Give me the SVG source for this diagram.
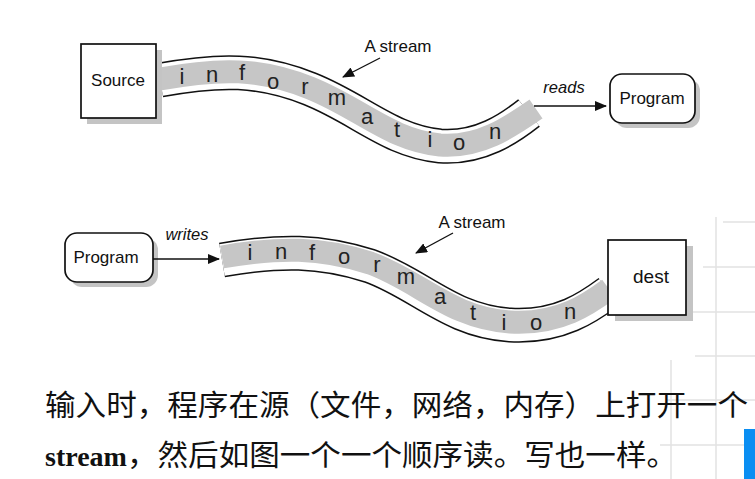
<svg xmlns="http://www.w3.org/2000/svg" width="755" height="479" viewBox="0 0 755 479">
<style>
.grid{stroke:#e2e2e2;stroke-width:1.5;fill:none}
.shadow{fill:#c4c4c4}
.box{fill:#fff;stroke:#111;stroke-width:1.7}
.lbl{font-family:"Liberation Sans",Arial,sans-serif;font-size:17px;fill:#111;text-anchor:middle}
.ital{font-family:"Liberation Sans",Arial,sans-serif;font-size:16.5px;font-style:italic;fill:#111;text-anchor:middle}
.tubeO{fill:none;stroke:#111;stroke-width:35}
.tubeW{fill:none;stroke:#fff;stroke-width:32}
.tubeG{fill:none;stroke:#c6c6c6;stroke-width:23}
.let{font-family:"Liberation Sans",Arial,sans-serif;font-size:22px;fill:#222;text-anchor:middle}
.conn{stroke:#111;stroke-width:1.4;fill:none;marker-end:url(#ah)}
.cjk{font-family:"Noto Sans CJK SC",sans-serif;font-size:29px;fill:#111}
.bold{font-family:"Liberation Serif","Times New Roman",serif;font-size:28px;font-weight:bold;fill:#111}
</style>
<defs>
<marker id="ah" markerWidth="12" markerHeight="10" refX="11" refY="5" orient="auto" markerUnits="userSpaceOnUse">
<path d="M0,0 L12,5 L0,10 Z" fill="#111"/>
</marker>
</defs>
<rect width="755" height="479" fill="#fff"/>
<g id="background">
<line class="grid" x1="716" y1="217" x2="716" y2="479"/>
<line class="grid" x1="671" y1="360" x2="671" y2="479"/>
<line class="grid" x1="723" y1="222" x2="755" y2="222"/>
<line class="grid" x1="703" y1="267" x2="755" y2="267"/>
<line class="grid" x1="693" y1="312" x2="755" y2="312"/>
<line class="grid" x1="695" y1="356" x2="755" y2="356"/>
<line class="grid" x1="667" y1="400" x2="755" y2="400"/>
<line class="grid" x1="660" y1="445" x2="755" y2="445"/>
<rect x="744" y="429" width="11" height="50" fill="#0a8ef2"/>
</g>
<g id="stream-top">
<path class="tubeO" d="M160,80 C220,69 260,69 310,89 C360,109 390,141 440,146 C480,149 510,128 529,113"/>
<path class="tubeW" d="M160,80 C220,69 260,69 310,89 C360,109 390,141 440,146 C480,149 510,128 529,113"/>
<path class="tubeG" d="M160,79 C220,68 260,68 310,88 C360,108 390,140 440,145 C480,148 510,127 536,109"/>
<text class="let" x="182" y="84">i</text>
<text class="let" x="212" y="82">n</text>
<text class="let" x="242" y="80">f</text>
<text class="let" x="273" y="89">o</text>
<text class="let" x="305" y="94">r</text>
<text class="let" x="337" y="105">m</text>
<text class="let" x="367" y="124">a</text>
<text class="let" x="397" y="137">t</text>
<text class="let" x="430" y="147">i</text>
<text class="let" x="459" y="150">o</text>
<text class="let" x="495" y="139">n</text>
</g>
<g id="stream-bottom">
<path class="tubeO" d="M222,260 C280,250 320,250 370,266 C420,284 450,321 510,325 C560,328 590,306 609,292"/>
<path class="tubeW" d="M222,260 C280,250 320,250 370,266 C420,284 450,321 510,325 C560,328 590,306 609,292"/>
<path class="tubeG" d="M222,257 C280,247 320,247 370,263 C420,281 450,318 510,322 C560,325 590,303 609,289"/>
<text class="let" x="250" y="260">i</text>
<text class="let" x="281" y="259">n</text>
<text class="let" x="312" y="260">f</text>
<text class="let" x="344" y="264">o</text>
<text class="let" x="377" y="272">r</text>
<text class="let" x="406" y="284">m</text>
<text class="let" x="440" y="304">a</text>
<text class="let" x="473" y="320">t</text>
<text class="let" x="504" y="330">i</text>
<text class="let" x="536" y="330">o</text>
<text class="let" x="570" y="319">n</text>
</g>
<g id="source">
<rect class="shadow" x="87" y="50" width="75" height="74"/>
<rect class="box" x="81" y="44" width="75" height="74"/>
<text class="lbl" x="118" y="86">Source</text>
</g>
<g id="program-top">
<rect class="shadow" x="615" y="79" width="85" height="49" rx="12"/>
<rect class="box" x="610" y="74" width="85" height="49" rx="12"/>
<text class="lbl" x="652" y="104">Program</text>
</g>
<g id="program-bottom">
<rect class="shadow" x="70" y="238" width="88" height="49" rx="12"/>
<rect class="box" x="65" y="233" width="88" height="49" rx="12"/>
<text class="lbl" x="106" y="263">Program</text>
</g>
<g id="dest">
<rect class="shadow" x="615" y="246" width="78" height="75"/>
<rect class="box" x="608" y="240" width="78" height="75"/>
<text class="lbl" x="651" y="283" style="font-size:19px">dest</text>
</g>
<g id="connectors">
<line class="conn" x1="534" y1="106" x2="606" y2="106"/>
<line class="conn" x1="153" y1="259" x2="219" y2="259"/>
<line class="conn" x1="380" y1="58" x2="343" y2="77"/>
<line class="conn" x1="453" y1="233" x2="416" y2="253"/>
</g>
<g id="labels">
<text class="lbl" x="398" y="52">A stream</text>
<text class="lbl" x="472" y="228">A stream</text>
<text class="ital" x="564" y="93">reads</text>
<text class="ital" x="187" y="240">writes</text>
</g>
<g id="caption">
<text class="cjk" x="45" y="416" textLength="703" lengthAdjust="spacingAndGlyphs">输入时，程序在源（文件，网络，内存）上打开一个</text>
<text class="bold" x="45" y="466">stream</text>
<text class="cjk" x="127" y="466" textLength="550" lengthAdjust="spacingAndGlyphs">，然后如图一个一个顺序读。写也一样。</text>
</g>
</svg>
